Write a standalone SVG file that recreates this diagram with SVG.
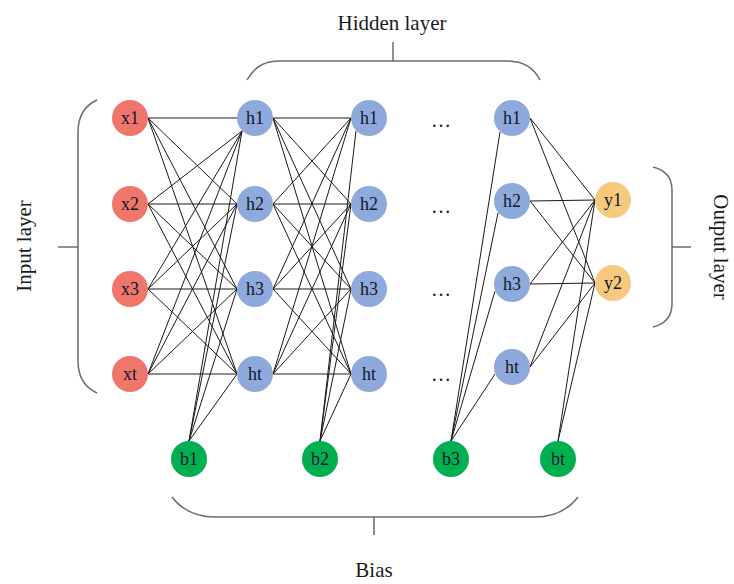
<svg xmlns="http://www.w3.org/2000/svg" width="734" height="584" viewBox="0 0 734 584">
  <style>
    .bg { fill: #ffffff; }
    .brace { fill: none; stroke: #6b6b6b; stroke-width: 1.5; }
    .title { font-family: "Liberation Serif", "Times New Roman", serif; font-size: 21px; fill: #1a1a1a; text-anchor: middle; }
    .lbl { font-family: "Liberation Serif", "Times New Roman", serif; font-size: 18px; fill: #16162a; text-anchor: middle; }
    .dots { font-family: "Liberation Serif", "Times New Roman", serif; font-size: 20px; fill: #1a1a1a; text-anchor: middle; }
    .edge line { stroke: #1a1a1a; stroke-width: 1; }
    .in { fill: #F0766C; }
    .hid { fill: #8EA9DB; }
    .out { fill: #F7C97E; }
    .bias { fill: #00B050; }
  </style>
  <rect class="bg" x="0" y="0" width="734" height="584"/>

  <!-- connectors -->
  <g id="connectors" class="edge">
    <!-- input -> hidden 1 -->
    <line x1="148" y1="118" x2="237" y2="118"/>
    <line x1="148" y1="118" x2="237" y2="204"/>
    <line x1="148" y1="118" x2="237" y2="289"/>
    <line x1="148" y1="118" x2="237" y2="374"/>
    <line x1="148" y1="204" x2="242" y2="131"/>
    <line x1="148" y1="204" x2="237" y2="204"/>
    <line x1="148" y1="204" x2="237" y2="289"/>
    <line x1="148" y1="204" x2="237" y2="374"/>
    <line x1="148" y1="289" x2="242" y2="131"/>
    <line x1="148" y1="289" x2="237" y2="204"/>
    <line x1="148" y1="289" x2="237" y2="289"/>
    <line x1="148" y1="289" x2="237" y2="374"/>
    <line x1="148" y1="374" x2="242" y2="131"/>
    <line x1="148" y1="374" x2="237" y2="204"/>
    <line x1="148" y1="374" x2="237" y2="289"/>
    <line x1="148" y1="374" x2="237" y2="374"/>
    <!-- b1 -> hidden 1 -->
    <line x1="189" y1="441" x2="242" y2="131"/>
    <line x1="189" y1="441" x2="237" y2="204"/>
    <line x1="189" y1="441" x2="237" y2="289"/>
    <line x1="189" y1="441" x2="237" y2="374"/>
    <!-- hidden 1 -> hidden 2 -->
    <line x1="273" y1="118" x2="351" y2="118"/>
    <line x1="273" y1="118" x2="351" y2="204"/>
    <line x1="273" y1="118" x2="351" y2="289"/>
    <line x1="273" y1="118" x2="351" y2="374"/>
    <line x1="273" y1="204" x2="351" y2="118"/>
    <line x1="273" y1="204" x2="351" y2="204"/>
    <line x1="273" y1="204" x2="351" y2="289"/>
    <line x1="273" y1="204" x2="351" y2="374"/>
    <line x1="273" y1="289" x2="351" y2="118"/>
    <line x1="273" y1="289" x2="351" y2="204"/>
    <line x1="273" y1="289" x2="351" y2="289"/>
    <line x1="273" y1="289" x2="351" y2="374"/>
    <line x1="273" y1="374" x2="351" y2="118"/>
    <line x1="273" y1="374" x2="351" y2="204"/>
    <line x1="273" y1="374" x2="351" y2="289"/>
    <line x1="273" y1="374" x2="351" y2="374"/>
    <!-- b2 -> hidden 2 -->
    <line x1="320" y1="441" x2="356" y2="131"/>
    <line x1="320" y1="441" x2="351" y2="204"/>
    <line x1="320" y1="441" x2="351" y2="289"/>
    <line x1="320" y1="441" x2="351" y2="374"/>
    <!-- b3 -> last hidden -->
    <line x1="451" y1="441" x2="500" y2="132"/>
    <line x1="451" y1="441" x2="498" y2="213"/>
    <line x1="451" y1="441" x2="495" y2="291"/>
    <line x1="451" y1="441" x2="495" y2="374"/>
    <!-- last hidden -> output -->
    <line x1="530" y1="118" x2="595" y2="200"/>
    <line x1="530" y1="118" x2="595" y2="283"/>
    <line x1="530" y1="201" x2="595" y2="200"/>
    <line x1="530" y1="201" x2="595" y2="283"/>
    <line x1="530" y1="284" x2="595" y2="200"/>
    <line x1="530" y1="284" x2="595" y2="283"/>
    <line x1="530" y1="367" x2="595" y2="200"/>
    <line x1="530" y1="367" x2="595" y2="283"/>
    <!-- bt -> output -->
    <line x1="558" y1="441" x2="595" y2="200"/>
    <line x1="558" y1="441" x2="595" y2="283"/>
  </g>

  <!-- input layer -->
  <g id="x1"><circle class="in" cx="130" cy="118" r="18"/><text class="lbl" x="130" y="124">x1</text></g>
  <g id="x2"><circle class="in" cx="130" cy="204" r="18"/><text class="lbl" x="130" y="210">x2</text></g>
  <g id="x3"><circle class="in" cx="130" cy="289" r="18"/><text class="lbl" x="130" y="295">x3</text></g>
  <g id="xt"><circle class="in" cx="130" cy="374" r="18"/><text class="lbl" x="130" y="380">xt</text></g>

  <!-- hidden layer 1 -->
  <g id="h1-1"><circle class="hid" cx="255" cy="118" r="18"/><text class="lbl" x="255" y="124">h1</text></g>
  <g id="h2-1"><circle class="hid" cx="255" cy="204" r="18"/><text class="lbl" x="255" y="210">h2</text></g>
  <g id="h3-1"><circle class="hid" cx="255" cy="289" r="18"/><text class="lbl" x="255" y="295">h3</text></g>
  <g id="ht-1"><circle class="hid" cx="255" cy="374" r="18"/><text class="lbl" x="255" y="380">ht</text></g>

  <!-- hidden layer 2 -->
  <g id="h1-2"><circle class="hid" cx="369" cy="118" r="18"/><text class="lbl" x="369" y="124">h1</text></g>
  <g id="h2-2"><circle class="hid" cx="369" cy="204" r="18"/><text class="lbl" x="369" y="210">h2</text></g>
  <g id="h3-2"><circle class="hid" cx="369" cy="289" r="18"/><text class="lbl" x="369" y="295">h3</text></g>
  <g id="ht-2"><circle class="hid" cx="369" cy="374" r="18"/><text class="lbl" x="369" y="380">ht</text></g>

  <!-- ellipses between hidden layers -->
  <g id="ellipsis">
    <text class="dots" x="441" y="127">…</text>
    <text class="dots" x="441" y="213">…</text>
    <text class="dots" x="441" y="296">…</text>
    <text class="dots" x="441" y="381">…</text>
  </g>

  <!-- last hidden layer -->
  <g id="h1-n"><circle class="hid" cx="512" cy="118" r="18"/><text class="lbl" x="512" y="124">h1</text></g>
  <g id="h2-n"><circle class="hid" cx="512" cy="201" r="18"/><text class="lbl" x="512" y="207">h2</text></g>
  <g id="h3-n"><circle class="hid" cx="512" cy="284" r="18"/><text class="lbl" x="512" y="290">h3</text></g>
  <g id="ht-n"><circle class="hid" cx="512" cy="367" r="18"/><text class="lbl" x="512" y="373">ht</text></g>

  <!-- output layer -->
  <g id="y1"><circle class="out" cx="613" cy="200" r="18"/><text class="lbl" x="613" y="206">y1</text></g>
  <g id="y2"><circle class="out" cx="613" cy="283" r="18"/><text class="lbl" x="613" y="289">y2</text></g>

  <!-- bias nodes -->
  <g id="b1"><circle class="bias" cx="189" cy="459" r="18"/><text class="lbl" x="189" y="465">b1</text></g>
  <g id="b2"><circle class="bias" cx="320" cy="459" r="18"/><text class="lbl" x="320" y="465">b2</text></g>
  <g id="b3"><circle class="bias" cx="451" cy="459" r="18"/><text class="lbl" x="451" y="465">b3</text></g>
  <g id="bt"><circle class="bias" cx="558" cy="459" r="18"/><text class="lbl" x="558" y="465">bt</text></g>

  <!-- group braces -->
  <g id="hidden-brace">
    <path class="brace" d="M247,80 C255,66 265,61 280,61 L507,61 C522,61 533,66 540,80"/>
    <path class="brace" d="M393,61 V42"/>
    <text class="title" x="392" y="30">Hidden layer</text>
  </g>
  <g id="input-brace">
    <path class="brace" d="M97,100 C84,106 78,118 78,132 V361 C78,375 84,387 97,393"/>
    <path class="brace" d="M58,247 H78"/>
    <text class="title" transform="translate(31,246) rotate(-90)" x="0" y="0">Input layer</text>
  </g>
  <g id="output-brace">
    <path class="brace" d="M653,167 C665,170 672,178 672,190 V304 C672,316 665,324 653,327"/>
    <path class="brace" d="M672,247 H691"/>
    <text class="title" transform="translate(714,247) rotate(90)" x="0" y="0">Output layer</text>
  </g>
  <g id="bias-brace">
    <path class="brace" d="M172,497 C182,510 195,517 215,517 L535,517 C555,517 568,510 578,497"/>
    <path class="brace" d="M374,517 V535"/>
    <text class="title" x="374" y="577">Bias</text>
  </g>
</svg>
